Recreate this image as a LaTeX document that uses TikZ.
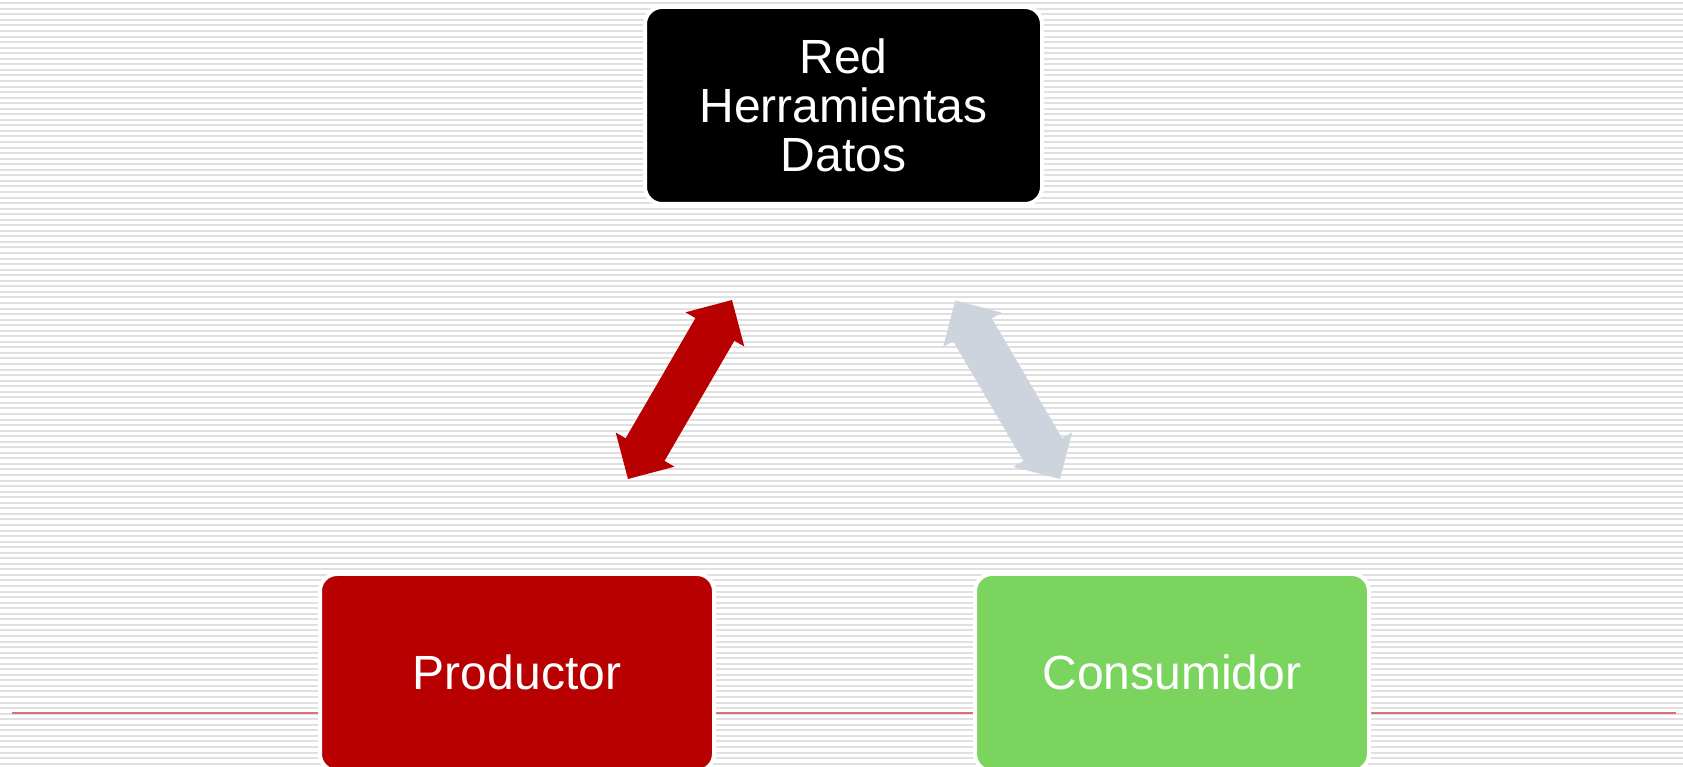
\documentclass[tikz,border=0pt]{standalone}
\usepackage{fontspec}
\setmainfont{Liberation Sans}
\definecolor{boxred}{RGB}{184,0,0}
\definecolor{boxgreen}{RGB}{122,212,94}
\definecolor{arrowgray}{RGB}{205,212,221}
\definecolor{rulered}{RGB}{214,114,118}
\definecolor{stripe}{RGB}{224,224,224}
\tikzset{
  bgline/.style={draw=stripe, line width=2pt},
  topic/.style={rounded corners=17pt, draw=white, line width=4pt,
    minimum width=394pt, minimum height=197pt, inner sep=0pt,
    text=white, align=center, font=\fontsize{48}{49}\selectfont},
}
% double-headed block arrow along the local x axis, length #1
\newcommand{\blockarrow}[1]{%
  (0,0) -- (34,34) -- (34,22.5) -- (#1-34,22.5) -- (#1-34,34) -- (#1,0)
  -- (#1-34,-34) -- (#1-34,-22.5) -- (34,-22.5) -- (34,-34) -- cycle}
\begin{document}
\begin{tikzpicture}[x=1pt,y=1pt]
  \useasboundingbox (0,0) rectangle (1683,767);
  \fill[white] (0,0) rectangle (1683,767);
  % striped backdrop
  \foreach \i in {0,...,138}
    \draw[bgline] (0,{763.7-5.55*\i}) -- (1683,{763.7-5.55*\i});
  % thin rule near the bottom
  \coordinate (ruleL) at (12,54.3);
  \coordinate (ruleR) at (1676,54.3);
  \draw[rulered, line width=2pt] (ruleL) -- (ruleR);

  % boxes
  \node[topic, fill=black, minimum width=397pt] (net) at (843.5,661.5)
    {Red\\Herramientas\\Datos};
  \node[topic, fill=boxred, text depth=0pt] (prod) at (517,94.5) {Productor};
  \node[topic, fill=boxgreen, text depth=0pt] (cons) at (1172,94.5) {Consumidor};

  % exchange arrows
  \coordinate (redend) at (628,288);
  \coordinate (grayend) at (1060,288);
  \begin{scope}[shift={(redend)}, rotate=59.84]
    \fill[boxred] \blockarrow{207};
  \end{scope}
  \begin{scope}[shift={(grayend)}, rotate=120.4]
    \fill[arrowgray] \blockarrow{207};
  \end{scope}
\end{tikzpicture}
\end{document}
